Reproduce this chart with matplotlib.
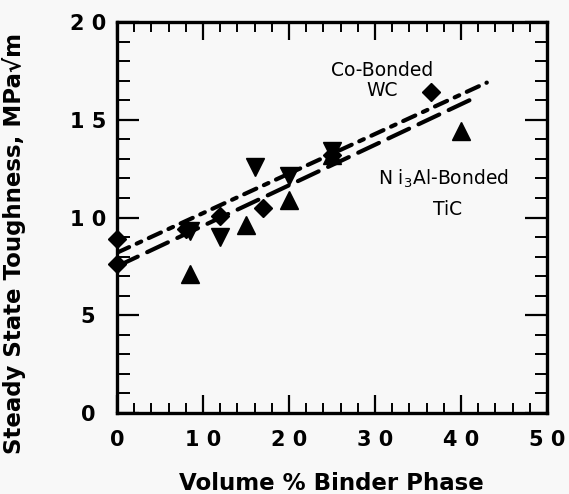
import matplotlib
matplotlib.use("Agg")
import matplotlib.pyplot as plt
from matplotlib.ticker import MultipleLocator

plt.rcParams['font.family'] = ['DejaVu Sans']

# Co-bonded WC (diamonds)
wc_x = [0, 0, 8, 12, 17, 25, 36.5]
wc_y = [8.9, 7.6, 9.4, 10.1, 10.5, 13.2, 16.4]
# Ni3Al-bonded TiC (up triangles)
tic_up_x = [8.5, 15, 20, 25, 40]
tic_up_y = [7.1, 9.6, 10.9, 13.2, 14.4]
# down triangles
tic_dn_x = [8.5, 12, 16, 20, 25]
tic_dn_y = [9.3, 9.0, 12.6, 12.1, 13.4]
# fitted lines
fit_upper_x = [0, 43]
fit_upper_y = [8.2, 16.9]
fit_lower_x = [0, 41]
fit_lower_y = [7.5, 16.0]

xticks = [0, 10, 20, 30, 40, 50]
xticklabels = ["0", "1 0", "2 0", "3 0", "4 0", "5 0"]
yticks = [0, 5, 10, 15, 20]
yticklabels = ["0", "5", "1 0", "1 5", "2 0"]

bg = '#f8f8f8'
fig = plt.figure(figsize=(5.69, 4.94), dpi=100, facecolor=bg)
ax = fig.add_axes([117/569, 1-413/494, 430/569, 391/494])
ax.set_facecolor(bg)

ax.plot(fit_upper_x, fit_upper_y, color='black', lw=3.0, dashes=(3.2, 2.0, 1.2, 2.0),
        dash_capstyle='round', solid_capstyle='round')
ax.plot(fit_lower_x, fit_lower_y, color='black', lw=3.0, dashes=(5.5, 2.5),
        dash_capstyle='round')

ax.plot(wc_x, wc_y, 'D', color='black', ms=9.5, clip_on=False)
ax.plot(tic_up_x, tic_up_y, '^', color='black', ms=13, clip_on=False)
ax.plot(tic_dn_x, tic_dn_y, 'v', color='black', ms=13, clip_on=False)

ax.set_xlim(0, 50)
ax.set_ylim(0, 20)
ax.set_xticks(xticks)
ax.set_xticklabels(xticklabels, fontsize=15, fontweight='bold')
ax.set_yticks(yticks)
ax.set_yticklabels(yticklabels, fontsize=15, fontweight='bold', ha='center')
ax.xaxis.set_minor_locator(MultipleLocator(2))
ax.yaxis.set_minor_locator(MultipleLocator(1))

ax.tick_params(axis='x', which='major', direction='in', length=13, width=1.6,
               top=True, bottom=True, pad=12)
ax.tick_params(axis='x', which='minor', direction='in', length=7, width=1.4,
               top=True, bottom=True)
ax.tick_params(axis='y', which='major', direction='in', length=16, width=1.6,
               left=True, right=True, pad=21)
ax.tick_params(axis='y', which='minor', direction='in', length=9, width=1.4,
               left=True, right=True)
for s in ax.spines.values():
    s.set_linewidth(2.4)

ann = dict(ha='center', va='center', fontsize=13.5)
ax.text(30.8, 17.5, "Co-Bonded", **ann)
ax.text(30.8, 16.5, "WC", **ann)
ax.text(37.9, 12.0, "N i$_3$Al-Bonded", **ann)
ax.text(38.4, 10.4, "TiC", **ann)

fig.text(331/569, 1-483/494, "Volume % Binder Phase", ha='center', va='center',
         fontsize=16.5, fontweight='bold')
fig.text(14/569, 1-243/494, "Steady State Toughness, MPa\u221Am", ha='center', va='center',
         rotation=90, fontsize=16.5, fontweight='bold')

fig.savefig("out.png", dpi=100, facecolor=bg)
